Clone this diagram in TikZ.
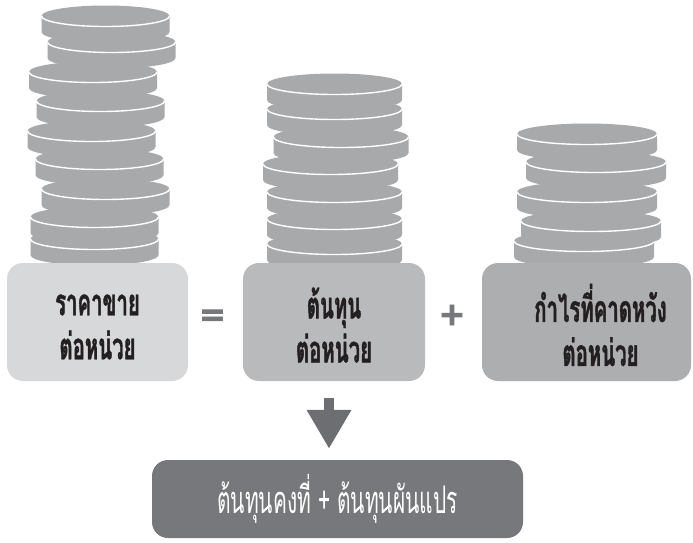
\documentclass[tikz,border=0pt]{standalone}
\usepackage{fontspec}
\usetikzlibrary{arrows.meta}
\newfontfamily\thaifont[Script=Thai,FakeStretch=0.55,BoldFeatures={FakeBold=1}]{Loma}
\newfontfamily\signfont[FakeBold=2.5]{DejaVu Sans}

\definecolor{coingray}{HTML}{A8A9AB}
\definecolor{sellgray}{HTML}{D7D8DA}
\definecolor{costgray}{HTML}{B9BABC}
\definecolor{profitgray}{HTML}{ADAEB0}
\definecolor{totalgray}{HTML}{77787B}
\definecolor{arrowgray}{HTML}{6D6E71}
\definecolor{signgray}{HTML}{77787B}
\definecolor{textdark}{HTML}{231F20}

\tikzset{
  coin/.style={fill=coingray},
  coinrim/.style={draw=white, line width=1.4pt},
  boxtext/.style={inner sep=0pt, align=center, text=textdark,
    font=\thaifont\bfseries\fontsize{37}{44}\selectfont},
  box/.style={rounded corners=16pt, minimum height=118pt},
  sign/.style={text=signgray, inner sep=0pt,
    font=\signfont\bfseries\fontsize{32}{32}\selectfont},
  downarrow/.style={draw=arrowgray, line width=10pt,
    -{Triangle[length=39pt,width=42pt]}, shorten <=17pt, shorten >=11pt},
}

% one coin: centre x, centre y of the top face, x radius
\newcommand{\coin}[3]{%
  \fill[coin] (#1-#3,#2) -- ++(0,16) arc[start angle=180,end angle=0,x radius=#3,y radius=10.5]
    -- ++(0,-16) arc[start angle=0,end angle=-180,x radius=#3,y radius=10.5] -- cycle;
  \draw[coinrim] (#1-#3,#2) arc[start angle=180,end angle=0,x radius=#3,y radius=10.5];
}

\begin{document}
\begin{tikzpicture}[x=1pt,y=-1pt]
  \useasboundingbox (0,0) rectangle (693,542);
  \fill[white] (0,0) rectangle (693,542);

  % stacks of coins, lowest coin first
  \foreach \cx/\cy in {94.5/239,94.5/217,105.5/189,99.5/159,91.5/131,100.5/101,93/72,111.5/42,105.5/16}
    \coin{\cx}{\cy}{64};
  \foreach \cx/\cy in {334.5/244,334.5/219,334.5/192,330.5/164,341/137,334.5/109,334.5/84}
    \coin{\cx}{\cy}{67.5};
  \foreach \cx/\cy in {584/241,591/221,587/192,596/162,587/134}
    \coin{\cx}{\cy}{70};

  % the three boxes and their labels
  \node[box, fill=sellgray, minimum width=181pt] (sell) at (97.5,322) {};
  \node[box, fill=costgray, minimum width=182pt] (cost) at (334,322) {};
  \node[box, fill=profitgray, minimum width=209pt] (profit) at (586.5,322) {};
  \node[boxtext] (selltext) at ([yshift=-5pt]sell.center) {ราคาขาย\\ต่อหน่วย};
  \node[boxtext] (costtext) at ([yshift=-3pt]cost.center) {ต้นทุน\\ต่อหน่วย};
  \node[boxtext] (profittext) at ([xshift=14pt,yshift=-3pt]profit.center) {กำไรที่คาดหวัง\\ต่อหน่วย};

  \node[sign] (eq) at (212.5,317.5) {=};
  \node[sign] (plus) at (452,315) {+};

  \node[box, fill=totalgray, minimum width=371pt, minimum height=78pt] (total) at (337.5,499) {};
  \node[boxtext, text=white, font=\thaifont\fontsize{38}{40}\selectfont]
    (totaltext) at (total.center) {ต้นทุนคงที่ + ต้นทุนผันแปร};

  \coordinate (arrowtop) at ([xshift=-5pt]cost.south);
  \draw[downarrow] (arrowtop) -- (arrowtop |- total.north);
\end{tikzpicture}
\end{document}
